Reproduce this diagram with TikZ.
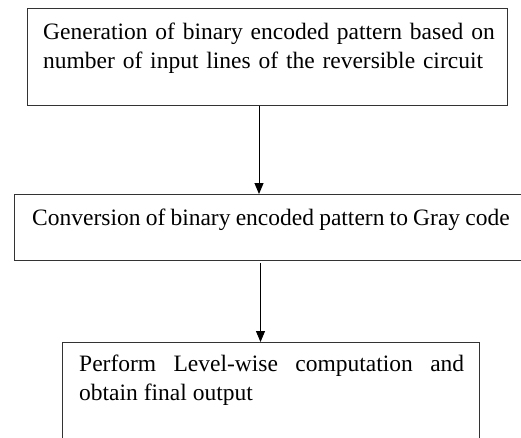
\documentclass[tikz,border=0pt]{standalone}
\usepackage{fontspec}
\setmainfont{Liberation Serif}
\usetikzlibrary{positioning,arrows.meta}

\begin{document}
\begin{tikzpicture}[x=1pt,y=-1pt]
    \tikzstyle{block} = [rectangle, draw=black!80, line width=0.8pt,
               anchor=north west, inner sep=0pt]
    \tikzstyle{words} = [anchor=north west, inner sep=0pt, text=black,
               font=\fontsize{23.5}{29}\selectfont]
    \tikzstyle{line} = [draw, line width=1pt, -{Triangle[length=11pt,width=9pt]}]

    % Page frame
    \clip (0,0) rectangle (521,437);

    % Define boxes
    \node [block, minimum width=480pt, minimum height=97pt] (gen) at (27,8) {};
    \node [block, minimum width=520pt, minimum height=66pt] (conv) at (14,194) {};
    \node [block, minimum width=417pt, minimum height=120pt] (comp) at (62,342) {};

    % Texts in the boxes
    \node [words, text width=460pt, align=left] (gentext) at (43,23)
      {Generation of binary encoded pattern based on number of input lines of the reversible circuit};
    \node [words] (convtext) at (32,209)
      {\spaceskip=5.2pt Conversion of binary encoded pattern to Gray code};
    \node [words, text width=385pt, align=justify] (comptext) at (79,355)
      {Perform\hfill Level-wise\hfill computation\hfill and\\obtain final output};

    % Connectors
    \coordinate (axisa) at (259,0);
    \coordinate (axisb) at (260.5,0);
    \path [line] (gen.south -| axisa) -- (conv.north -| axisa);
    \path [line, shorten <=2pt] (conv.south -| axisb) -- (comp.north -| axisb);

  \end{tikzpicture}
\end{document}
